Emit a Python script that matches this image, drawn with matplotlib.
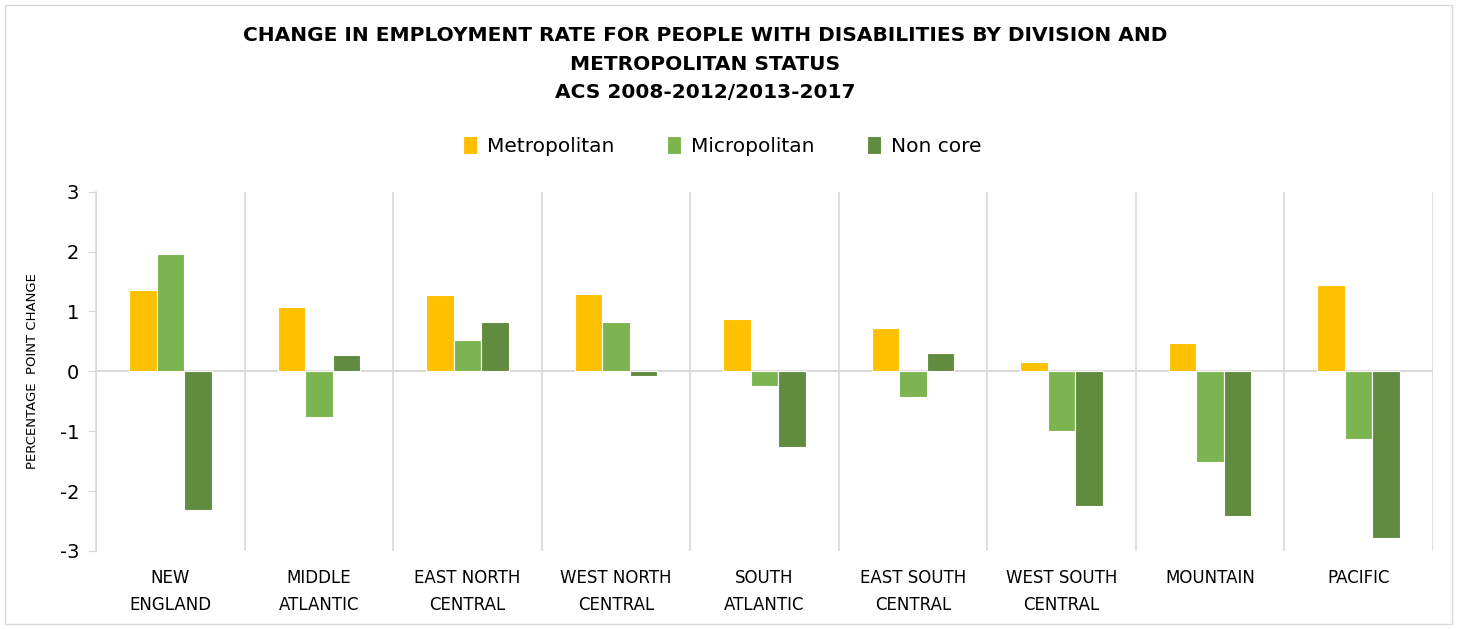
import matplotlib
matplotlib.use("Agg")
import matplotlib.pyplot as plt
import numpy as np

# ===================
# DATA
# ===================
DIVISIONS = ["NEW\nENGLAND", "MIDDLE\nATLANTIC", "EAST NORTH\nCENTRAL", "WEST NORTH\nCENTRAL",
             "SOUTH\nATLANTIC", "EAST SOUTH\nCENTRAL", "WEST SOUTH\nCENTRAL", "MOUNTAIN", "PACIFIC"]
METROPOLITAN = [1.36, 1.08, 1.27, 1.29, 0.87, 0.73, 0.16, 0.48, 1.45]
MICROPOLITAN = [1.96, -0.77, 0.53, 0.82, -0.24, -0.42, -1.00, -1.52, -1.13]
NON_CORE = [-2.32, 0.28, 0.83, -0.08, -1.26, 0.30, -2.25, -2.41, -2.78]
SERIES_NAMES = ["Metropolitan", "Micropolitan", "Non core"]
Y_TICKS = [-3, -2, -1, 0, 1, 2, 3]

TITLE = ("CHANGE IN EMPLOYMENT RATE FOR PEOPLE WITH DISABILITIES BY DIVISION AND\n"
         "METROPOLITAN STATUS\nACS 2008-2012/2013-2017")

# ===================
# STYLE
# ===================
COLOURS = ["#FFC000", "#7CB450", "#618C3F"]
GRID = "#D9D9D9"

plt.rcParams['font.family'] = ['DejaVu Sans']

fig = plt.figure(figsize=(14.57, 6.29), dpi=100)
ax = fig.add_axes([96 / 1457, 1 - 551 / 629, (1433 - 96) / 1457, (551 - 191.7) / 629])

x = np.arange(len(DIVISIONS))
width = 0.185
for i, (vals, name) in enumerate(zip([METROPOLITAN, MICROPOLITAN, NON_CORE], SERIES_NAMES)):
    ax.bar(x + (i - 1) * width, vals, width, color=COLOURS[i], edgecolor="white",
           linewidth=0.8, label=name, zorder=3)

ax.set_xlim(-0.5, len(DIVISIONS) - 0.5)
ax.set_ylim(-3, 3)
ax.set_yticks(Y_TICKS)
ax.set_yticklabels([str(v) for v in Y_TICKS], fontsize=14)
ax.set_xticks(x)
ax.set_xticklabels(DIVISIONS, fontsize=12, linespacing=1.65)
ax.tick_params(axis="x", length=0, pad=13)
ax.tick_params(axis="y", length=6, color=GRID, pad=6)

# category separators
ax.set_xticks(np.arange(-0.5, len(DIVISIONS)), minor=True)
ax.tick_params(axis="x", which="minor", length=0)
ax.grid(axis="x", which="minor", color=GRID, linewidth=1.2, zorder=0)
ax.axhline(0, color=GRID, linewidth=1.5, zorder=2)

for s in ["top", "right", "bottom"]:
    ax.spines[s].set_visible(False)
ax.spines["left"].set_color(GRID)
ax.spines["left"].set_linewidth(1.2)

ax.set_ylabel("PERCENTAGE  POINT CHANGE", fontsize=9.5)
ax.yaxis.set_label_coords(-0.043, 0.5)

fig.text(705 / 1457, 1 - 64 / 629, TITLE, ha="center", va="center", fontsize=14.5,
         fontweight="bold", linespacing=1.65)

fig.legend(loc="center", bbox_to_anchor=(722 / 1457, 1 - 146 / 629), ncol=3, frameon=False,
           fontsize=14.5, handlelength=0.7, handleheight=1.0, handletextpad=0.5, columnspacing=2.6)

# outer chart border
fig.patches.append(plt.Rectangle((5 / 1457, 5 / 629), 1447 / 1457, 619 / 629, transform=fig.transFigure,
                                 fill=False, edgecolor=GRID, linewidth=1))

fig.savefig("out.png", dpi=100)
